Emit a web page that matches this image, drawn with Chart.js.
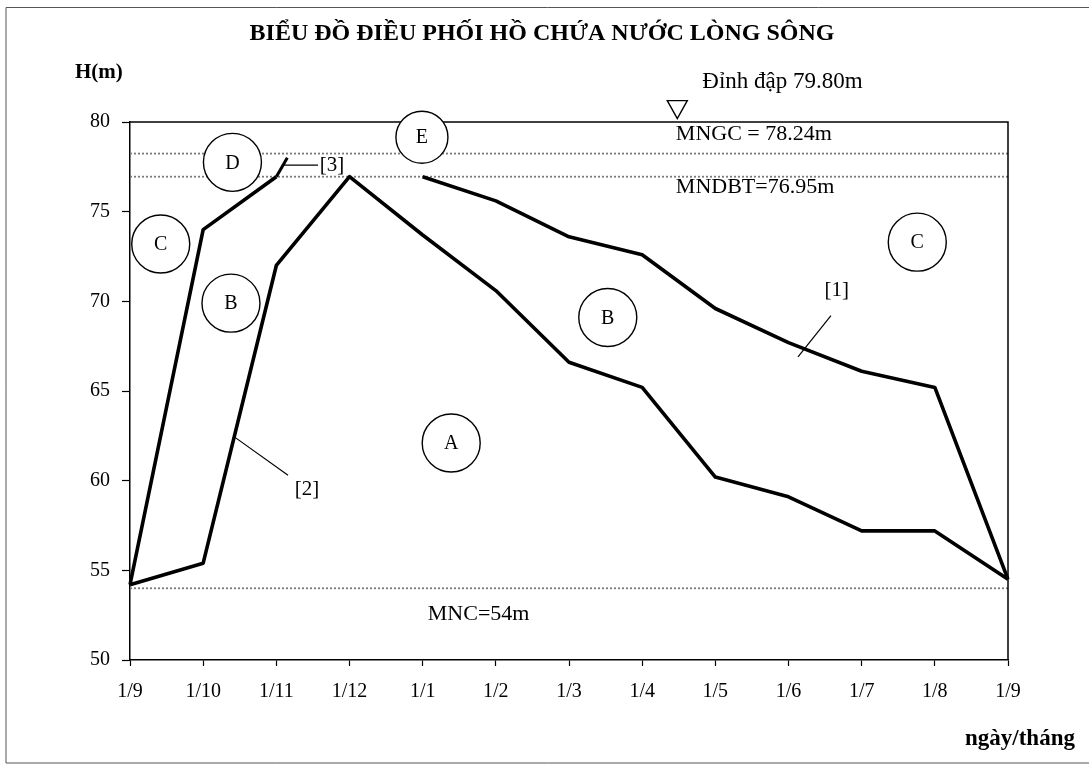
<!DOCTYPE html>
<html>
<head>
<meta charset="utf-8">
<script src="https://cdn.jsdelivr.net/npm/chart.js@4.4.1/dist/chart.umd.min.js"></script>
<style>
  html, body { margin: 0; padding: 0; background: #fff; }
  #wrap { width: 1090px; height: 765px; position: relative; }
</style>
</head>
<body>
<div id="wrap"><canvas id="c" width="1090" height="765"></canvas></div>
<script>
// ---- data ----
const categories = ['1/9','1/10','1/11','1/12','1/1','1/2','1/3','1/4','1/5','1/6','1/7','1/8','1/9'];
const curve1 = [54.2, 74.0, 76.95, null, 76.95, 75.6, 73.6, 72.6, 69.6, 67.7, 66.1, 65.2, 54.5];   // [1]
const curve2 = [54.2, 55.4, 72.0, 76.95, 73.7, 70.6, 66.6, 65.2, 60.2, 59.1, 57.2, 57.2, 54.5];   // [2]
const curve3 = [[2, 76.95], [2.15, 78.0]];                                                         // [3]
const yTicks = [50, 55, 60, 65, 70, 75, 80];
const levelMNGC = 78.24;
const levelMNDBT = 76.95;
const levelMNC = 54;
const damCrest = 79.80;
const levelLabels = ['MNGC = 78.24m', 'MNDBT=76.95m', 'MNC=54m'];
const zoneLabels = ['C', 'D', 'B', 'E', 'B', 'A', 'C'];
const zonePositions = [[0.42, 73.2], [1.40, 77.75], [1.38, 69.9], [3.99, 79.15], [6.53, 69.1], [4.39, 62.1], [10.76, 73.3]];
const curveTags = ['[1]', '[2]', '[3]'];
const curveTagPos = [[9.66, 70.6], [2.42, 59.5], [2.76, 77.6]];
const curveTagLeaders = [[[9.58, 69.2], [9.13, 66.9]], [[1.44, 62.4], [2.16, 60.3]], [[2.09, 77.6], [2.57, 77.6]]];

const SERIF = '"Liberation Serif", "DejaVu Serif", serif';

const decor = {
  id: 'decor',
  beforeDatasetsDraw(chart) {
    const { ctx, chartArea: a, scales: { x, y } } = chart;
    ctx.save();
    // outer scan frame
    ctx.strokeStyle = '#555';
    ctx.lineWidth = 1;
    ctx.beginPath();
    ctx.moveTo(6, 7.5); ctx.lineTo(1089, 7.5);
    ctx.moveTo(6, 7.5); ctx.lineTo(6, 763);
    ctx.moveTo(6, 763); ctx.lineTo(1089, 763);
    ctx.stroke();
    // level lines
    ctx.strokeStyle = '#7a7a7a';
    ctx.lineWidth = 1.8;
    ctx.setLineDash([2, 2]);
    [levelMNGC, levelMNDBT, levelMNC].forEach(v => {
      const py = y.getPixelForValue(v);
      ctx.beginPath(); ctx.moveTo(a.left, py); ctx.lineTo(a.right, py); ctx.stroke();
    });
    ctx.setLineDash([]);
    ctx.restore();
  },
  afterDatasetsDraw(chart) {
    const { ctx, chartArea: a, scales: { x, y } } = chart;
    ctx.save();
    // plot frame top/right
    ctx.strokeStyle = '#000';
    ctx.lineWidth = 1.5;
    ctx.beginPath();
    ctx.moveTo(a.left, a.top); ctx.lineTo(a.right, a.top); ctx.lineTo(a.right, a.bottom);
    ctx.stroke();

    // curve [3]
    ctx.lineWidth = 3;
    ctx.beginPath();
    ctx.moveTo(x.getPixelForValue(curve3[0][0]), y.getPixelForValue(curve3[0][1]));
    ctx.lineTo(x.getPixelForValue(curve3[1][0]), y.getPixelForValue(curve3[1][1]));
    ctx.stroke();

    // title
    ctx.fillStyle = '#000';
    ctx.textAlign = 'center';
    ctx.textBaseline = 'middle';
    ctx.font = 'bold 24px ' + SERIF;
    ctx.fillText('BIỂU ĐỒ ĐIỀU PHỐI HỒ CHỨA NƯỚC LÒNG SÔNG', 542, 34);
    ctx.font = 'bold 21px ' + SERIF;
    ctx.textAlign = 'left';
    ctx.fillText('H(m)', 75, 73);
    ctx.font = 'bold 23px ' + SERIF;
    ctx.fillText('ngày/tháng', 965, 739);

    // level labels
    ctx.font = '22px ' + SERIF;
    ctx.textAlign = 'left';
    ctx.fillText(levelLabels[0], x.getPixelForValue(7.46), y.getPixelForValue(levelMNGC) - 19);
    ctx.fillText(levelLabels[1], x.getPixelForValue(7.46), y.getPixelForValue(levelMNDBT) + 11);
    ctx.fillText(levelLabels[2], x.getPixelForValue(4.07), y.getPixelForValue(levelMNC) + 26);

    // dam crest
    const tx = x.getPixelForValue(7.48);
    const ty = y.getPixelForValue(damCrest);
    ctx.font = '23px ' + SERIF;
    ctx.fillText('Đỉnh đập 79.80m', tx + 25, 82);
    ctx.lineWidth = 1.4;
    ctx.beginPath();
    ctx.moveTo(tx - 10, ty - 25); ctx.lineTo(tx + 10, ty - 25); ctx.lineTo(tx, ty - 7); ctx.closePath();
    ctx.stroke();

    // zone circles
    ctx.lineWidth = 1.4;
    ctx.textAlign = 'center';
    ctx.font = '20px ' + SERIF;
    zoneLabels.forEach((lab, i) => {
      const cx = x.getPixelForValue(zonePositions[i][0]);
      const cy = y.getPixelForValue(zonePositions[i][1]);
      const r = lab === 'E' ? 26 : 29;
      ctx.fillStyle = '#fff';
      ctx.beginPath(); ctx.arc(cx, cy, r, 0, Math.PI * 2); ctx.fill(); ctx.stroke();
      ctx.fillStyle = '#000';
      ctx.fillText(lab, cx, cy + 1);
    });

    // curve tags & leaders
    ctx.lineWidth = 1.2;
    ctx.font = '21px ' + SERIF;
    curveTags.forEach((t, i) => {
      ctx.fillText(t, x.getPixelForValue(curveTagPos[i][0]), y.getPixelForValue(curveTagPos[i][1]));
      const l = curveTagLeaders[i];
      ctx.beginPath();
      ctx.moveTo(x.getPixelForValue(l[0][0]), y.getPixelForValue(l[0][1]));
      ctx.lineTo(x.getPixelForValue(l[1][0]), y.getPixelForValue(l[1][1]));
      ctx.stroke();
    });
    ctx.restore();
  }
};

new Chart(document.getElementById('c'), {
  type: 'line',
  data: {
    labels: categories,
    datasets: [
      { label: '[1]', data: curve1, borderColor: '#000', borderWidth: 3.6, pointRadius: 0, tension: 0, spanGaps: false, borderJoinStyle: 'round' },
      { label: '[2]', data: curve2, borderColor: '#000', borderWidth: 3.6, pointRadius: 0, tension: 0, borderJoinStyle: 'round' }
    ]
  },
  options: {
    responsive: false,
    animation: false,
    devicePixelRatio: 1,
    layout: { padding: { left: 70, right: 82, top: 122, bottom: 55 } },
    plugins: { legend: { display: false }, tooltip: { enabled: false }, title: { display: false } },
    scales: {
      x: {
        type: 'category',
        offset: false,
        grid: { display: true, drawOnChartArea: false, color: '#000', tickLength: 6, tickWidth: 1.2 },
        border: { display: true, color: '#000', width: 1.5 },
        ticks: { color: '#000', font: { family: SERIF, size: 20 }, padding: 14, maxRotation: 0, autoSkip: false },
        afterFit(s) { s.height = 50; }
      },
      y: {
        min: 50, max: 80,
        afterBuildTicks(s) { s.ticks = yTicks.map(v => ({ value: v })); },
        grid: { display: true, drawOnChartArea: false, color: '#000', tickLength: 8, tickWidth: 1.2 },
        border: { display: true, color: '#000', width: 1.5 },
        ticks: { color: '#000', font: { family: SERIF, size: 20 }, padding: 12 },
        afterFit(s) { s.width = 60; }
      }
    }
  },
  plugins: [decor]
});
</script>
</body>
</html>
